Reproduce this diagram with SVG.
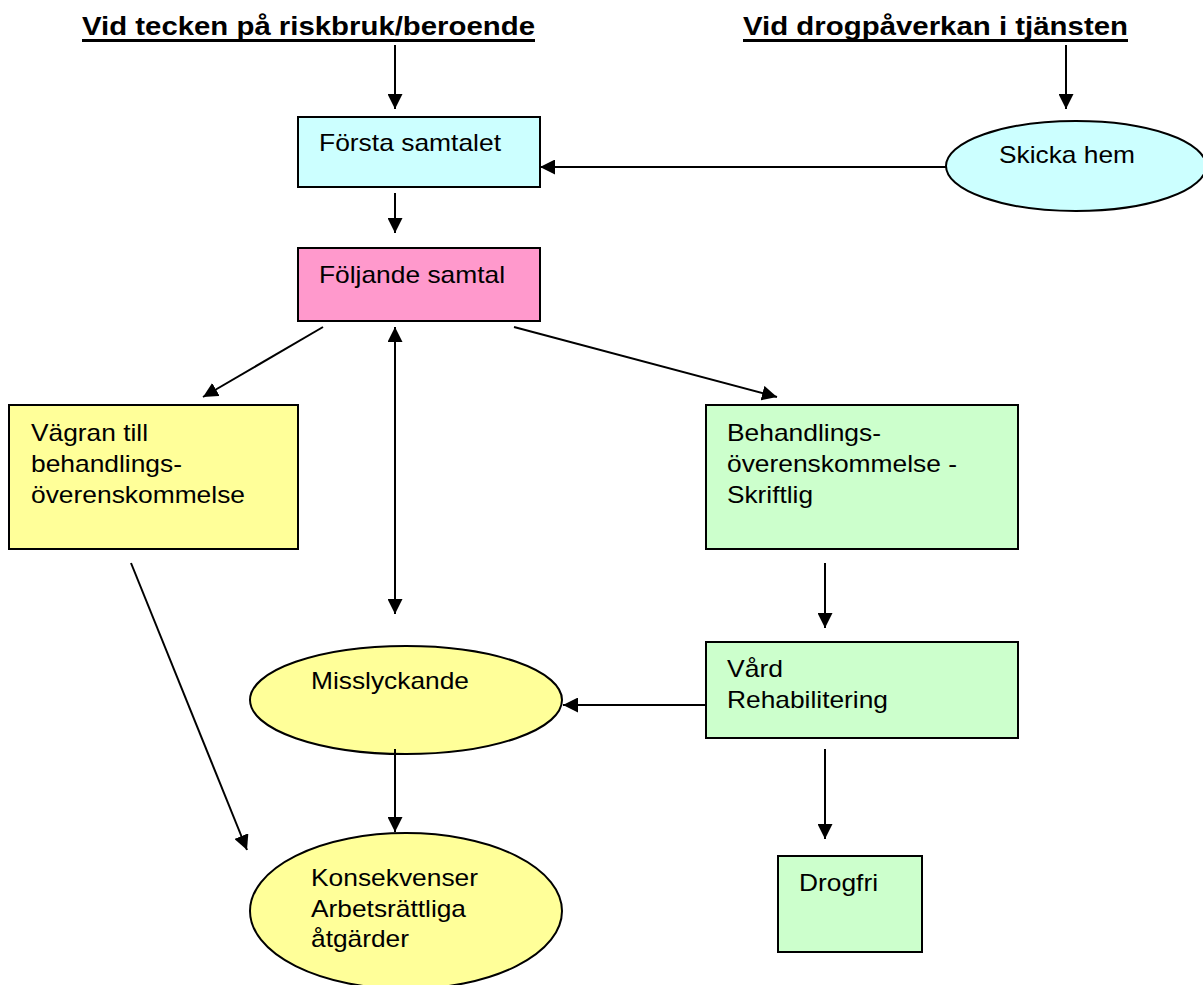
<svg xmlns="http://www.w3.org/2000/svg" width="1203" height="985" viewBox="0 0 1203 985">
<defs>
<marker id="ah" viewBox="0 0 10 10" refX="10" refY="5" markerWidth="15" markerHeight="15" markerUnits="userSpaceOnUse" orient="auto-start-reverse">
<path d="M0,0 L10,5 L0,10 Z" fill="#000"/>
</marker>
<style>
.n{stroke:#000;stroke-width:2}
.t{font-family:"Liberation Sans",Arial,sans-serif;font-size:24px;fill:#000}
.h{font-family:"Liberation Sans",Arial,sans-serif;font-size:26px;font-weight:bold;fill:#000}
.c{stroke:#000;stroke-width:2;fill:none;marker-end:url(#ah)}
</style>
</defs>
<rect width="1203" height="985" fill="#fff"/>
<g id="title1">
<text class="h" x="82" y="35" textLength="453" lengthAdjust="spacingAndGlyphs">Vid tecken på riskbruk/beroende</text>
<line x1="82" y1="40.5" x2="535" y2="40.5" stroke="#000" stroke-width="3"/>
</g>
<g id="title2">
<text class="h" x="743" y="35" textLength="385" lengthAdjust="spacingAndGlyphs">Vid drogpåverkan i tjänsten</text>
<line x1="743" y1="40.5" x2="1128" y2="40.5" stroke="#000" stroke-width="3"/>
</g>
<g id="forsta">
<rect class="n" x="298" y="117" width="242" height="70" fill="#CCFFFF"/>
<text class="t" x="319" y="151" textLength="182" lengthAdjust="spacingAndGlyphs">Första samtalet</text>
</g>
<g id="skicka">
<ellipse class="n" cx="1076" cy="166" rx="130" ry="45" fill="#CCFFFF"/>
<text class="t" x="999" y="163" textLength="136" lengthAdjust="spacingAndGlyphs">Skicka hem</text>
</g>
<g id="foljande">
<rect class="n" x="298" y="248" width="242" height="73" fill="#FF99CC"/>
<text class="t" x="319" y="283" textLength="186" lengthAdjust="spacingAndGlyphs">Följande samtal</text>
</g>
<g id="vagran">
<rect class="n" x="9" y="405" width="289" height="144" fill="#FFFF99"/>
<text class="t" x="31" y="441" textLength="117" lengthAdjust="spacingAndGlyphs">Vägran till</text>
<text class="t" x="31" y="472" textLength="151" lengthAdjust="spacingAndGlyphs">behandlings-</text>
<text class="t" x="31" y="503" textLength="214" lengthAdjust="spacingAndGlyphs">överenskommelse</text>
</g>
<g id="behandling">
<rect class="n" x="706" y="405" width="312" height="144" fill="#CCFFCC"/>
<text class="t" x="727" y="441" textLength="154" lengthAdjust="spacingAndGlyphs">Behandlings-</text>
<text class="t" x="727" y="472" textLength="230" lengthAdjust="spacingAndGlyphs">överenskommelse -</text>
<text class="t" x="727" y="503" textLength="86" lengthAdjust="spacingAndGlyphs">Skriftlig</text>
</g>
<g id="vard">
<rect class="n" x="706" y="642" width="312" height="96" fill="#CCFFCC"/>
<text class="t" x="727" y="677" textLength="56" lengthAdjust="spacingAndGlyphs">Vård</text>
<text class="t" x="727" y="708" textLength="161" lengthAdjust="spacingAndGlyphs">Rehabilitering</text>
</g>
<g id="misslyckande">
<ellipse class="n" cx="406" cy="700" rx="156" ry="54" fill="#FFFF99"/>
<text class="t" x="311" y="689" textLength="158" lengthAdjust="spacingAndGlyphs">Misslyckande</text>
</g>
<g id="konsekvenser">
<ellipse class="n" cx="406" cy="911" rx="156" ry="78" fill="#FFFF99"/>
<text class="t" x="311" y="886" textLength="167" lengthAdjust="spacingAndGlyphs">Konsekvenser</text>
<text class="t" x="311" y="917" textLength="155" lengthAdjust="spacingAndGlyphs">Arbetsrättliga</text>
<text class="t" x="311" y="947" textLength="98" lengthAdjust="spacingAndGlyphs">åtgärder</text>
</g>
<g id="drogfri">
<rect class="n" x="778" y="856" width="144" height="96" fill="#CCFFCC"/>
<text class="t" x="799" y="891" textLength="79" lengthAdjust="spacingAndGlyphs">Drogfri</text>
</g>
<g id="connectors">
<line class="c" x1="395" y1="45" x2="395" y2="109"/>
<line class="c" x1="1066" y1="45" x2="1066" y2="109"/>
<line class="c" x1="946" y1="167" x2="540" y2="167"/>
<line class="c" x1="395" y1="193" x2="395" y2="233"/>
<line class="c" x1="323" y1="327" x2="203" y2="397"/>
<line class="c" x1="395" y1="327" x2="395" y2="614" style="marker-start:url(#ah)"/>
<line class="c" x1="514" y1="327" x2="777" y2="397"/>
<line class="c" x1="825" y1="563" x2="825" y2="628"/>
<line class="c" x1="706" y1="705" x2="563" y2="705"/>
<line class="c" x1="395" y1="749" x2="395" y2="832"/>
<line class="c" x1="131" y1="563" x2="247" y2="850"/>
<line class="c" x1="825" y1="749" x2="825" y2="839"/>
</g>
</svg>
